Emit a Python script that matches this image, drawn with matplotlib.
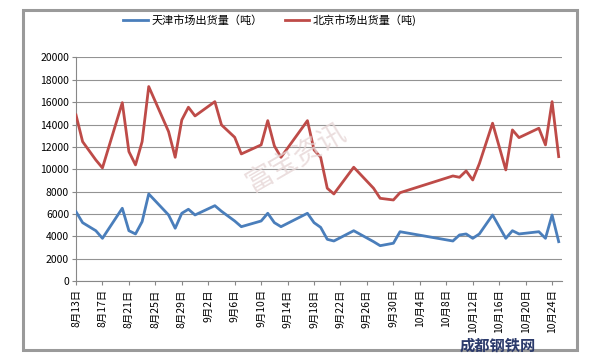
import matplotlib
matplotlib.use("Agg")
import matplotlib.pyplot as plt
from matplotlib.patches import Rectangle
import pandas as pd

plt.rcParams["font.family"] = ["Noto Sans CJK SC", "DejaVu Sans"]

# shipment dates (month-day)
DATES = ["08-13", "08-14", "08-16", "08-17", "08-20", "08-21", "08-22", "08-23",
         "08-24", "08-27", "08-28", "08-29", "08-30", "08-31", "09-03", "09-04",
         "09-06", "09-07", "09-10", "09-11", "09-12", "09-13", "09-17", "09-18",
         "09-19", "09-20", "09-21", "09-24", "09-27", "09-28", "09-30", "10-01",
         "10-09", "10-10", "10-11", "10-12", "10-13", "10-15", "10-17", "10-18",
         "10-19", "10-22", "10-23", "10-24", "10-25"]
TIANJIN = [6200, 5220, 4500, 3820, 6510, 4500, 4210, 5310,
           7790, 5910, 4720, 6060, 6420, 5910, 6740, 6240,
           5370, 4860, 5370, 6060, 5220, 4860, 6060, 5220,
           4800, 3730, 3580, 4500, 3520, 3160, 3380, 4410,
           3580, 4120, 4210, 3820, 4210, 5910, 3820, 4500,
           4210, 4410, 3820, 5910, 3520]
BEIJING = [14860, 12470, 10830, 10120, 15960, 11580, 10390, 12470,
           17400, 13370, 11070, 14410, 15550, 14770, 16050, 13970,
           12860, 11370, 12180, 14350, 12090, 11070, 14350, 11730,
           11070, 8300, 7790, 10180, 8300, 7400, 7250, 7900,
           9400, 9280, 9850, 9040, 10500, 14120, 9940, 13520,
           12830, 13670, 12180, 16050, 11130]
YEAR = 2012
LABEL_TJ = "天津市场出货量（吨）"
LABEL_BJ = "北京市场出货量（吨)"

dates = pd.to_datetime([f"{YEAR}-{d}" for d in DATES])

fig = plt.figure(figsize=(5.93, 3.59), dpi=100)
ax = fig.add_axes([76 / 593, 1 - 281 / 359, (562 - 76) / 593, (281 - 57.5) / 359])

# chart frame
fig.patches.append(Rectangle((23 / 593, 1 - 350 / 359), (577 - 23) / 593, (350 - 10) / 359,
                             transform=fig.transFigure, fill=False,
                             edgecolor="#9a9a9a", linewidth=2.2, zorder=0))

ax.plot(dates, TIANJIN, color="#4a7ebb", linewidth=2.0, label=LABEL_TJ, zorder=3)
ax.plot(dates, BEIJING, color="#be4b48", linewidth=2.0, label=LABEL_BJ, zorder=3)

start = pd.Timestamp(f"{YEAR}-08-13")
end = pd.Timestamp(f"{YEAR}-10-25 12:00")
ticks = pd.date_range(start, pd.Timestamp(f"{YEAR}-10-24"), freq="4D")
ax.set_xlim(start, end)
ax.set_xticks(ticks)
ax.set_xticklabels([f"{t.month}月{t.day}日" for t in ticks], rotation=90, fontsize=7.5)

ax.set_ylim(0, 20000)
ax.set_yticks(range(0, 20001, 2000))
ax.tick_params(axis="y", labelsize=7.5, length=3, color="#888888", pad=2)
ax.tick_params(axis="x", length=3, color="#888888", pad=3)
ax.grid(axis="y", color="#939393", linewidth=0.8)
for side in ["top", "right"]:
    ax.spines[side].set_visible(False)
for side in ["left", "bottom"]:
    ax.spines[side].set_color("#888888")
    ax.spines[side].set_linewidth(0.8)

fig.legend(loc="center", bbox_to_anchor=(0.455, 1 - 20 / 359), ncol=2, frameon=False,
           fontsize=8, handlelength=2.2, handletextpad=0.3, columnspacing=2.0)

# watermarks
fig.text(0.5, 0.56, "富宝资讯", fontsize=20, color="#e6d6d6", rotation=30,
         ha="center", va="center", alpha=0.8, zorder=1)
fig.text(0.84, 0.038, "成都钢铁网", fontsize=11, color="#2b3a6b", fontweight="bold",
         ha="center", va="center")

fig.savefig("out.png", dpi=100)
